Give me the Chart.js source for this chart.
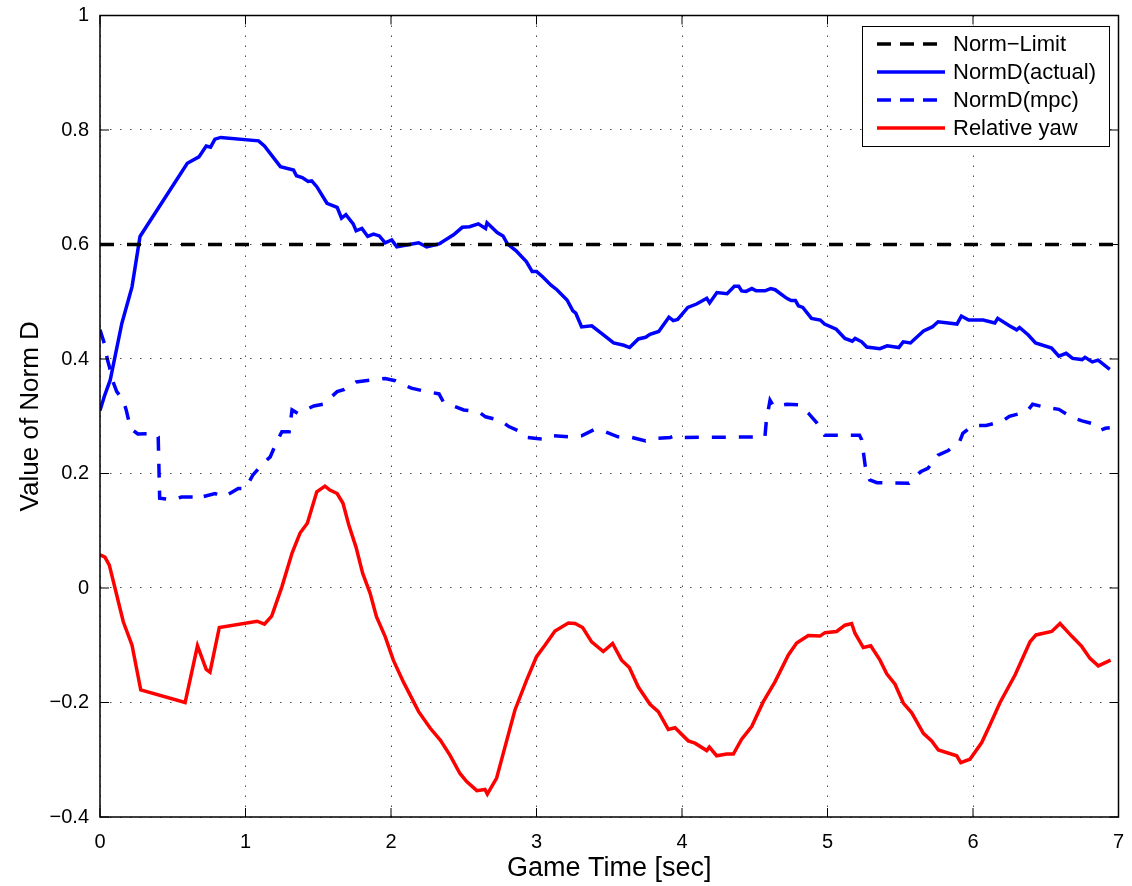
<!DOCTYPE html>
<html lang="en">
  <head>
    <meta charset="UTF-8" />
    <title>Value of Norm D</title>
    <script src="https://cdn.jsdelivr.net/npm/chart.js"></script>
    <style>
      html, body { margin: 0; padding: 0; background: #fff; }
      #wrap { width: 1132px; height: 886px; }
    </style>
  </head>
  <body>
    <div id="wrap"><canvas id="normChart" width="1132" height="886"></canvas></div>

    <script>
      // ---- data ----
      var xTicks = [0, 1, 2, 3, 4, 5, 6, 7];
      var yTicks = [-0.4, -0.2, 0, 0.2, 0.4, 0.6, 0.8, 1];

      var limitT = [0, 7];
      var limitV = [0.6, 0.6];

      var actualT = [0, 0.03, 0.07, 0.15, 0.22, 0.275, 0.6, 0.68, 0.73, 0.76, 0.79, 0.83, 1.09, 1.13, 1.24, 1.33, 1.35, 1.39, 1.43, 1.455, 1.49, 1.56, 1.63, 1.66, 1.69, 1.74, 1.76, 1.8, 1.84, 1.88, 1.92, 1.96, 2.005, 2.04, 2.19, 2.245, 2.33, 2.43, 2.49, 2.54, 2.6, 2.65, 2.66, 2.73, 2.77, 2.8, 2.86, 2.93, 2.97, 3.0, 3.04, 3.1, 3.14, 3.21, 3.25, 3.27, 3.31, 3.38, 3.46, 3.53, 3.6, 3.64, 3.7, 3.75, 3.78, 3.84, 3.91, 3.94, 3.97, 4.04, 4.1, 4.17, 4.19, 4.24, 4.31, 4.36, 4.39, 4.41, 4.44, 4.48, 4.51, 4.57, 4.61, 4.64, 4.72, 4.75, 4.78, 4.8, 4.83, 4.89, 4.95, 4.98, 5.06, 5.12, 5.17, 5.19, 5.235, 5.27, 5.36, 5.41, 5.49, 5.52, 5.57, 5.66, 5.72, 5.76, 5.89, 5.92, 5.97, 6.07, 6.15, 6.17, 6.25, 6.3, 6.32, 6.38, 6.43, 6.54, 6.59, 6.64, 6.685, 6.75, 6.77, 6.82, 6.86, 6.94];
      var actualV = [0.31, 0.335, 0.363, 0.462, 0.526, 0.614, 0.742, 0.753, 0.772, 0.77, 0.784, 0.787, 0.781, 0.772, 0.736, 0.73, 0.72, 0.717, 0.71, 0.711, 0.701, 0.672, 0.665, 0.646, 0.652, 0.636, 0.624, 0.628, 0.614, 0.618, 0.615, 0.603, 0.608, 0.596, 0.603, 0.596, 0.601, 0.617, 0.63, 0.631, 0.636, 0.628, 0.638, 0.621, 0.615, 0.601, 0.589, 0.57, 0.553, 0.553, 0.544, 0.529, 0.521, 0.503, 0.484, 0.48, 0.456, 0.458, 0.442, 0.428, 0.424, 0.42, 0.435, 0.438, 0.443, 0.448, 0.473, 0.467, 0.469, 0.49, 0.496, 0.506, 0.498, 0.516, 0.514, 0.527, 0.527, 0.519, 0.518, 0.523, 0.519, 0.519, 0.523, 0.521, 0.506, 0.502, 0.502, 0.493, 0.49, 0.471, 0.468, 0.461, 0.452, 0.436, 0.431, 0.436, 0.43, 0.421, 0.418, 0.423, 0.42, 0.43, 0.428, 0.449, 0.456, 0.465, 0.461, 0.475, 0.468, 0.468, 0.463, 0.471, 0.458, 0.451, 0.455, 0.442, 0.428, 0.419, 0.405, 0.41, 0.401, 0.399, 0.403, 0.395, 0.398, 0.382];

      var mpcT = [0, 0.03, 0.05, 0.064, 0.09, 0.115, 0.16, 0.18, 0.21, 0.26, 0.38, 0.4, 0.41, 0.5, 0.56, 0.64, 0.68, 0.7, 0.79, 0.85, 0.95, 1.0, 1.05, 1.11, 1.17, 1.21, 1.25, 1.3, 1.32, 1.36, 1.47, 1.535, 1.63, 1.68, 1.76, 1.86, 1.96, 2.03, 2.14, 2.21, 2.33, 2.36, 2.44, 2.5, 2.6, 2.65, 2.75, 2.81, 2.89, 2.93, 3.0, 3.06, 3.115, 3.23, 3.31, 3.4, 3.44, 3.47, 3.56, 3.64, 3.75, 3.81, 3.92, 3.95, 3.99, 4.57, 4.58, 4.605, 4.63, 4.72, 4.8, 4.87, 4.925, 4.98, 5.22, 5.235, 5.26, 5.29, 5.34, 5.56, 5.64, 5.69, 5.76, 5.83, 5.91, 5.93, 6.0, 6.09, 6.2, 6.25, 6.37, 6.41, 6.51, 6.59, 6.68, 6.75, 6.85, 6.88, 6.91, 6.94];
      var mpcV = [0.451, 0.427, 0.4, 0.387, 0.36, 0.343, 0.328, 0.311, 0.279, 0.269, 0.27, 0.264, 0.157, 0.154, 0.159, 0.159, 0.154, 0.159, 0.165, 0.159, 0.174, 0.174, 0.197, 0.215, 0.229, 0.253, 0.273, 0.273, 0.311, 0.305, 0.318, 0.321, 0.343, 0.347, 0.36, 0.363, 0.366, 0.362, 0.349, 0.345, 0.339, 0.325, 0.317, 0.311, 0.308, 0.299, 0.293, 0.282, 0.273, 0.263, 0.261, 0.26, 0.266, 0.264, 0.266, 0.277, 0.275, 0.273, 0.264, 0.264, 0.257, 0.261, 0.263, 0.266, 0.263, 0.264, 0.293, 0.328, 0.317, 0.321, 0.32, 0.305, 0.289, 0.267, 0.267, 0.259, 0.212, 0.189, 0.184, 0.183, 0.203, 0.209, 0.232, 0.24, 0.257, 0.27, 0.284, 0.284, 0.291, 0.3, 0.308, 0.321, 0.315, 0.312, 0.298, 0.292, 0.285, 0.276, 0.279, 0.28];

      var yawT = [0, 0.034, 0.064, 0.103, 0.16, 0.22, 0.28, 0.585, 0.67, 0.73, 0.756, 0.82, 1.08, 1.13, 1.18, 1.25, 1.32, 1.375, 1.425, 1.49, 1.546, 1.58, 1.63, 1.67, 1.71, 1.76, 1.805, 1.856, 1.9, 1.96, 2.016, 2.085, 2.19, 2.27, 2.34, 2.405, 2.474, 2.52, 2.59, 2.646, 2.662, 2.726, 2.784, 2.852, 2.932, 3.0, 3.058, 3.127, 3.219, 3.265, 3.317, 3.379, 3.459, 3.523, 3.585, 3.638, 3.7, 3.78, 3.837, 3.906, 3.952, 4.043, 4.089, 4.17, 4.188, 4.238, 4.307, 4.353, 4.41, 4.479, 4.558, 4.639, 4.731, 4.788, 4.868, 4.948, 4.983, 5.063, 5.12, 5.166, 5.189, 5.246, 5.297, 5.361, 5.407, 5.464, 5.521, 5.579, 5.659, 5.716, 5.762, 5.888, 5.916, 5.979, 6.06, 6.117, 6.186, 6.289, 6.392, 6.433, 6.541, 6.598, 6.678, 6.747, 6.804, 6.861, 6.946];
      var yawV = [0.058, 0.054, 0.04, 0.0, -0.059, -0.1, -0.178, -0.2, -0.101, -0.142, -0.147, -0.069, -0.058, -0.063, -0.049, 0.002, 0.061, 0.096, 0.113, 0.168, 0.178, 0.171, 0.165, 0.148, 0.11, 0.071, 0.026, -0.009, -0.05, -0.085, -0.126, -0.164, -0.216, -0.245, -0.266, -0.292, -0.324, -0.338, -0.354, -0.352, -0.36, -0.332, -0.277, -0.213, -0.161, -0.12, -0.1, -0.075, -0.061, -0.062, -0.069, -0.094, -0.111, -0.097, -0.126, -0.139, -0.173, -0.203, -0.216, -0.247, -0.244, -0.267, -0.271, -0.284, -0.278, -0.293, -0.29, -0.29, -0.264, -0.242, -0.199, -0.164, -0.117, -0.096, -0.083, -0.084, -0.078, -0.076, -0.065, -0.062, -0.079, -0.104, -0.101, -0.126, -0.15, -0.168, -0.201, -0.218, -0.254, -0.267, -0.283, -0.293, -0.305, -0.299, -0.27, -0.239, -0.2, -0.152, -0.094, -0.082, -0.076, -0.062, -0.084, -0.102, -0.123, -0.136, -0.126];

      var seriesNames = ["Norm\u2212Limit", "NormD(actual)", "NormD(mpc)", "Relative yaw"];

      function pts(ts, vs) {
        return ts.map(function (t, i) {
          return { x: t, y: vs[i] };
        });
      }

      function fmt(v) {
        var s = String(Math.round(v * 10) / 10);
        return v < 0 ? "\u2212" + s.slice(1) : s;
      }

      var FONT = "'Liberation Sans', Arial, Helvetica, sans-serif";
      var dashMain = [14, 13];

      // MATLAB-style box, inward ticks and the legend frame
      var matlabFrame = {
        id: "matlabFrame",
        afterDraw: function (chart) {
          var c = chart.ctx;
          var a = chart.chartArea;
          var xs = chart.scales.x;
          var ys = chart.scales.y;
          c.save();
          c.strokeStyle = "#000";
          c.lineWidth = 1.5;
          c.setLineDash([]);
          c.strokeRect(a.left, a.top, a.right - a.left, a.bottom - a.top);
          c.lineWidth = 1;
          c.beginPath();
          xTicks.forEach(function (t) {
            var px = xs.getPixelForValue(t);
            c.moveTo(px, a.bottom);
            c.lineTo(px, a.bottom - 9);
            c.moveTo(px, a.top);
            c.lineTo(px, a.top + 9);
          });
          yTicks.forEach(function (v) {
            var py = ys.getPixelForValue(v);
            c.moveTo(a.left, py);
            c.lineTo(a.left + 9, py);
            c.moveTo(a.right, py);
            c.lineTo(a.right - 9, py);
          });
          c.stroke();

          // legend
          var bx = 862.5, by = 26.5, bw = 247, bh = 120;
          c.fillStyle = "#fff";
          c.fillRect(bx, by, bw, bh);
          c.strokeStyle = "#000";
          c.lineWidth = 1;
          c.strokeRect(bx, by, bw, bh);
          c.font = "22px " + FONT;
          c.textBaseline = "middle";
          c.textAlign = "left";
          chart.data.datasets.forEach(function (ds, i) {
            var ry = 44 + i * 28;
            c.strokeStyle = ds.borderColor;
            c.lineWidth = 3.5;
            c.setLineDash(ds.borderDash && ds.borderDash.length ? [14, 9] : []);
            c.beginPath();
            c.moveTo(877, ry);
            c.lineTo(945, ry);
            c.stroke();
            c.setLineDash([]);
            c.fillStyle = "#000";
            c.fillText(ds.label, 953, ry + 1);
          });
          c.restore();
        },
      };

      var ctx = document.getElementById("normChart").getContext("2d");
      var normChart = new Chart(ctx, {
        type: "line",
        data: {
          datasets: [
            {
              label: seriesNames[0],
              data: pts(limitT, limitV),
              borderColor: "#000000",
              borderWidth: 3.5,
              borderDash: dashMain,
            },
            {
              label: seriesNames[1],
              data: pts(actualT, actualV),
              borderColor: "#0000ff",
              borderWidth: 3.5,
            },
            {
              label: seriesNames[2],
              data: pts(mpcT, mpcV),
              borderColor: "#0000ff",
              borderWidth: 3.5,
              borderDash: dashMain,
            },
            {
              label: seriesNames[3],
              data: pts(yawT, yawV),
              borderColor: "#ff0000",
              borderWidth: 3.5,
            },
          ],
        },
        options: {
          responsive: false,
          animation: false,
          devicePixelRatio: 1,
          layout: { padding: { top: 15.5, right: 13.5, left: 0, bottom: 0 } },
          elements: {
            point: { radius: 0 },
            line: { tension: 0, fill: false, borderCapStyle: "butt" },
          },
          plugins: {
            legend: { display: false },
            tooltip: { enabled: false },
          },
          scales: {
            x: {
              type: "linear",
              min: 0,
              max: 7,
              afterBuildTicks: function (scale) {
                scale.ticks = xTicks.map(function (v) {
                  return { value: v };
                });
              },
              afterFit: function (scale) {
                scale.height = 69;
                scale.paddingLeft = 0;
                scale.paddingRight = 0;
              },
              grid: { color: "rgba(0,0,0,0.7)", lineWidth: 1, drawTicks: false },
              border: { display: false, dash: [1.5, 8.5] },
              ticks: {
                padding: 13,
                color: "#000",
                font: { family: FONT, size: 20 },
                maxRotation: 0,
                callback: function (v) {
                  return fmt(v);
                },
              },
              title: {
                display: true,
                text: "Game Time [sec]",
                color: "#000",
                font: { family: FONT, size: 27 },
                padding: { top: 0, bottom: 1 },
              },
            },
            y: {
              type: "linear",
              min: -0.4,
              max: 1,
              afterBuildTicks: function (scale) {
                scale.ticks = yTicks.map(function (v) {
                  return { value: v };
                });
              },
              afterFit: function (scale) {
                scale.width = 100;
                scale.paddingTop = 0;
                scale.paddingBottom = 0;
              },
              grid: { color: "rgba(0,0,0,0.7)", lineWidth: 1, drawTicks: false },
              border: { display: false, dash: [1.5, 8.5] },
              ticks: {
                padding: 11,
                color: "#000",
                font: { family: FONT, size: 20 },
                callback: function (v) {
                  return fmt(v);
                },
              },
              title: {
                display: true,
                text: "Value of Norm D",
                color: "#000",
                font: { family: FONT, size: 26 },
                padding: { top: 15, bottom: 0 },
              },
            },
          },
        },
        plugins: [matlabFrame],
      });
    </script>
  </body>
</html>
